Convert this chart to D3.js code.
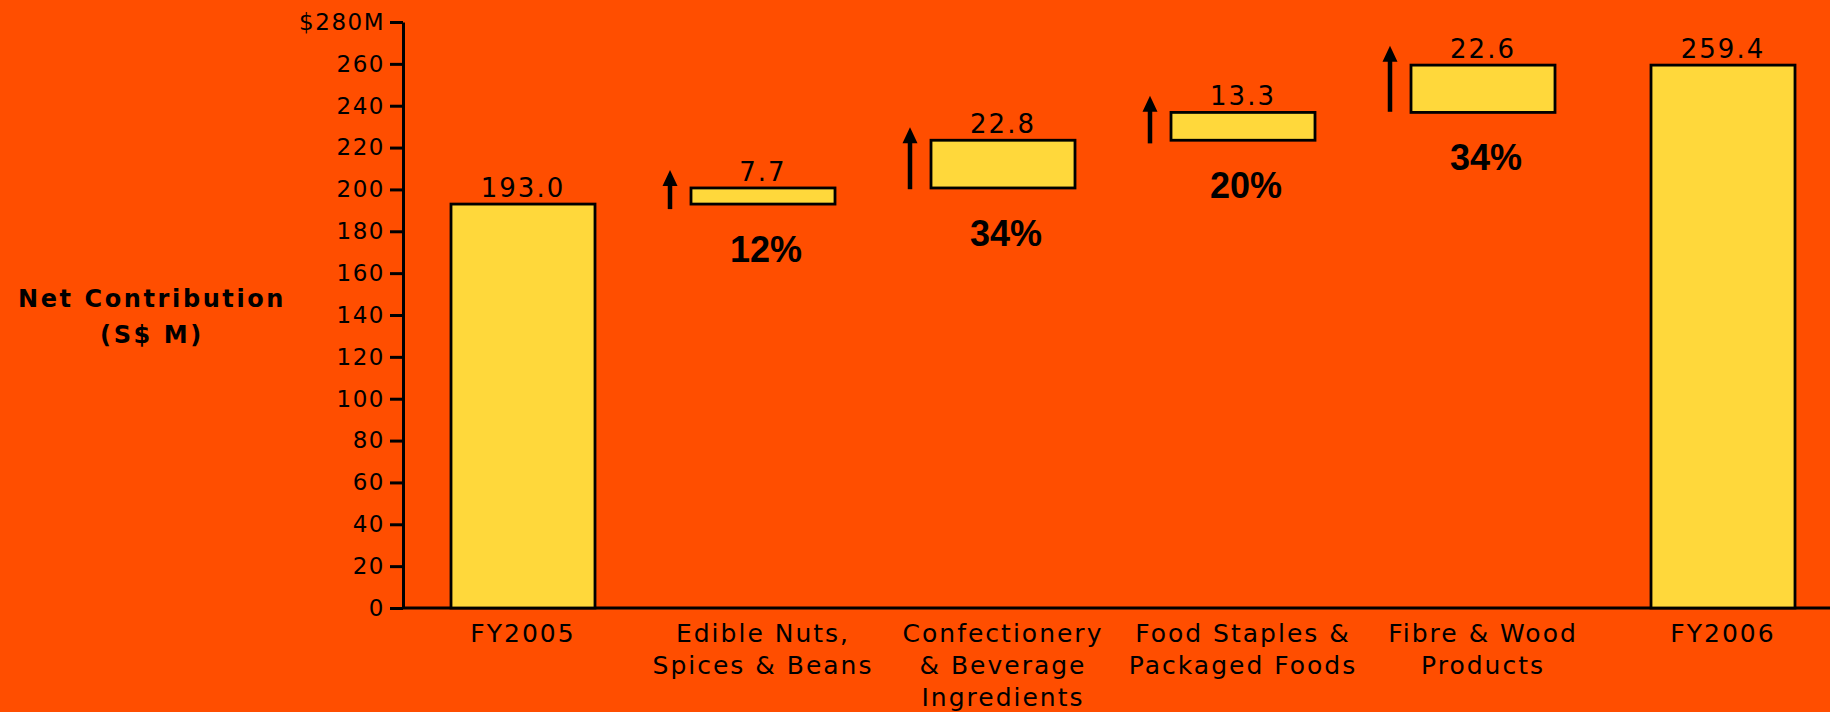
<!DOCTYPE html>
<html>
<head>
<meta charset="utf-8">
<script src="https://cdn.jsdelivr.net/npm/d3@7"></script>
<style>
  html, body { margin: 0; padding: 0; background: #FF4E00; }
  svg { display: block; }
</style>
</head>
<body>
<svg id="chart" width="1830" height="712"></svg>
<script>
// Waterfall of net contribution, FY2005 to FY2006 (S$ M)
const categories = [
  ["FY2005"],
  ["Edible Nuts,", "Spices & Beans"],
  ["Confectionery", "& Beverage", "Ingredients"],
  ["Food Staples &", "Packaged Foods"],
  ["Fibre & Wood", "Products"],
  ["FY2006"]
];
const barStart = [0, 193.0, 200.7, 223.5, 236.8, 0];
const barEnd   = [193.0, 200.7, 223.5, 236.8, 259.4, 259.4];
const valueLabels = ["193.0", "7.7", "22.8", "13.3", "22.6", "259.4"];
const growthLabels = [null, "12%", "34%", "20%", "34%", null];
// growth arrows beside each segment, in S$ M
const arrowFrom = [null, 190.6, 200.1, 222.0, 237.1, null];
const arrowTo   = [null, 209.3, 229.7, 244.8, 268.7, null];
const yTicks = [0, 20, 40, 60, 80, 100, 120, 140, 160, 180, 200, 220, 240, 260, 280];

const svg = d3.select("#chart");
const plotLeft = 403, plotBottom = 608, plotTop = 22;

const x = d3.scaleBand()
  .domain(d3.range(categories.length))
  .range([plotLeft, plotLeft + 1440])
  .paddingInner(0.4)
  .paddingOuter(0.2);

const y = d3.scaleLinear().domain([0, 280]).range([plotBottom, plotTop]);

const font = "'DejaVu Sans', Verdana, sans-serif";

// y axis
const yAxis = d3.axisLeft(y)
  .tickValues(yTicks)
  .tickSize(13)
  .tickSizeOuter(0)
  .tickPadding(5)
  .tickFormat(d => d === 280 ? "$280M" : d);
const gy = svg.append("g").attr("transform", `translate(${plotLeft},0)`).call(yAxis);
gy.select(".domain").attr("stroke", "#000").attr("stroke-width", 3);
gy.selectAll(".tick line").attr("stroke", "#000").attr("stroke-width", 3);
gy.selectAll(".tick text")
  .attr("fill", "#000")
  .style("font-family", font)
  .style("font-size", "23px")
  .style("letter-spacing", "1.5px");

// x axis baseline
svg.append("line")
  .attr("x1", plotLeft).attr("x2", 1830)
  .attr("y1", y(0)).attr("y2", y(0))
  .attr("stroke", "#000").attr("stroke-width", 3);

// bars
const idx = d3.range(categories.length);
svg.append("g").selectAll("rect").data(idx).join("rect")
  .attr("x", i => x(i))
  .attr("width", x.bandwidth())
  .attr("y", i => y(barEnd[i]))
  .attr("height", i => y(barStart[i]) - y(barEnd[i]))
  .attr("fill", "#FFD83B")
  .attr("stroke", "#000")
  .attr("stroke-width", 2.8);

// value labels above bars
svg.append("g").selectAll("text").data(idx).join("text")
  .attr("x", i => x(i) + x.bandwidth() / 2)
  .attr("y", i => y(barEnd[i]) - 7)
  .attr("text-anchor", "middle")
  .style("font-family", font)
  .style("font-size", "26px")
  .style("letter-spacing", "2px")
  .attr("fill", "#000")
  .text(i => valueLabels[i]);

// growth percentages below the floating segments
const growIdx = idx.filter(i => growthLabels[i]);
svg.append("g").selectAll("text").data(growIdx).join("text")
  .attr("x", i => x(i) + x.bandwidth() / 2 + 3)
  .attr("y", i => y(barStart[i]) + 58)
  .attr("text-anchor", "middle")
  .style("font-family", "'Liberation Sans', Arial, sans-serif")
  .style("font-weight", "bold")
  .style("font-size", "36px")
  .attr("fill", "#000")
  .text(i => growthLabels[i]);

// upward arrows
const arrows = svg.append("g").selectAll("g").data(growIdx).join("g")
  .attr("transform", i => `translate(${x(i) - 21},0)`);
arrows.append("line")
  .attr("x1", 0).attr("x2", 0)
  .attr("y1", i => y(arrowFrom[i]))
  .attr("y2", i => y(arrowTo[i]) + 12)
  .attr("stroke", "#000").attr("stroke-width", 4.5);
arrows.append("path")
  .attr("d", i => {
    const t = y(arrowTo[i]);
    return `M0,${t} L7.5,${t + 16} L-7.5,${t + 16} Z`;
  })
  .attr("fill", "#000");

// category labels
const catG = svg.append("g").selectAll("text").data(idx).join("text")
  .attr("x", i => x(i) + x.bandwidth() / 2)
  .attr("y", 642)
  .attr("text-anchor", "middle")
  .style("font-family", font)
  .style("font-size", "25px")
  .style("letter-spacing", "2px")
  .attr("fill", "#000");
catG.selectAll("tspan").data(i => categories[i]).join("tspan")
  .attr("x", function() { return d3.select(this.parentNode).attr("x"); })
  .attr("dy", (d, j) => j === 0 ? 0 : 32)
  .text(d => d);

// y axis title
const title = svg.append("text")
  .attr("text-anchor", "middle")
  .style("font-family", font)
  .style("font-weight", "bold")
  .style("font-size", "24px")
  .style("letter-spacing", "2.6px")
  .attr("fill", "#000");
title.append("tspan").attr("x", 152).attr("y", 307).text("Net Contribution");
title.append("tspan").attr("x", 152).attr("y", 343).text("(S$ M)");
</script>
</body>
</html>
